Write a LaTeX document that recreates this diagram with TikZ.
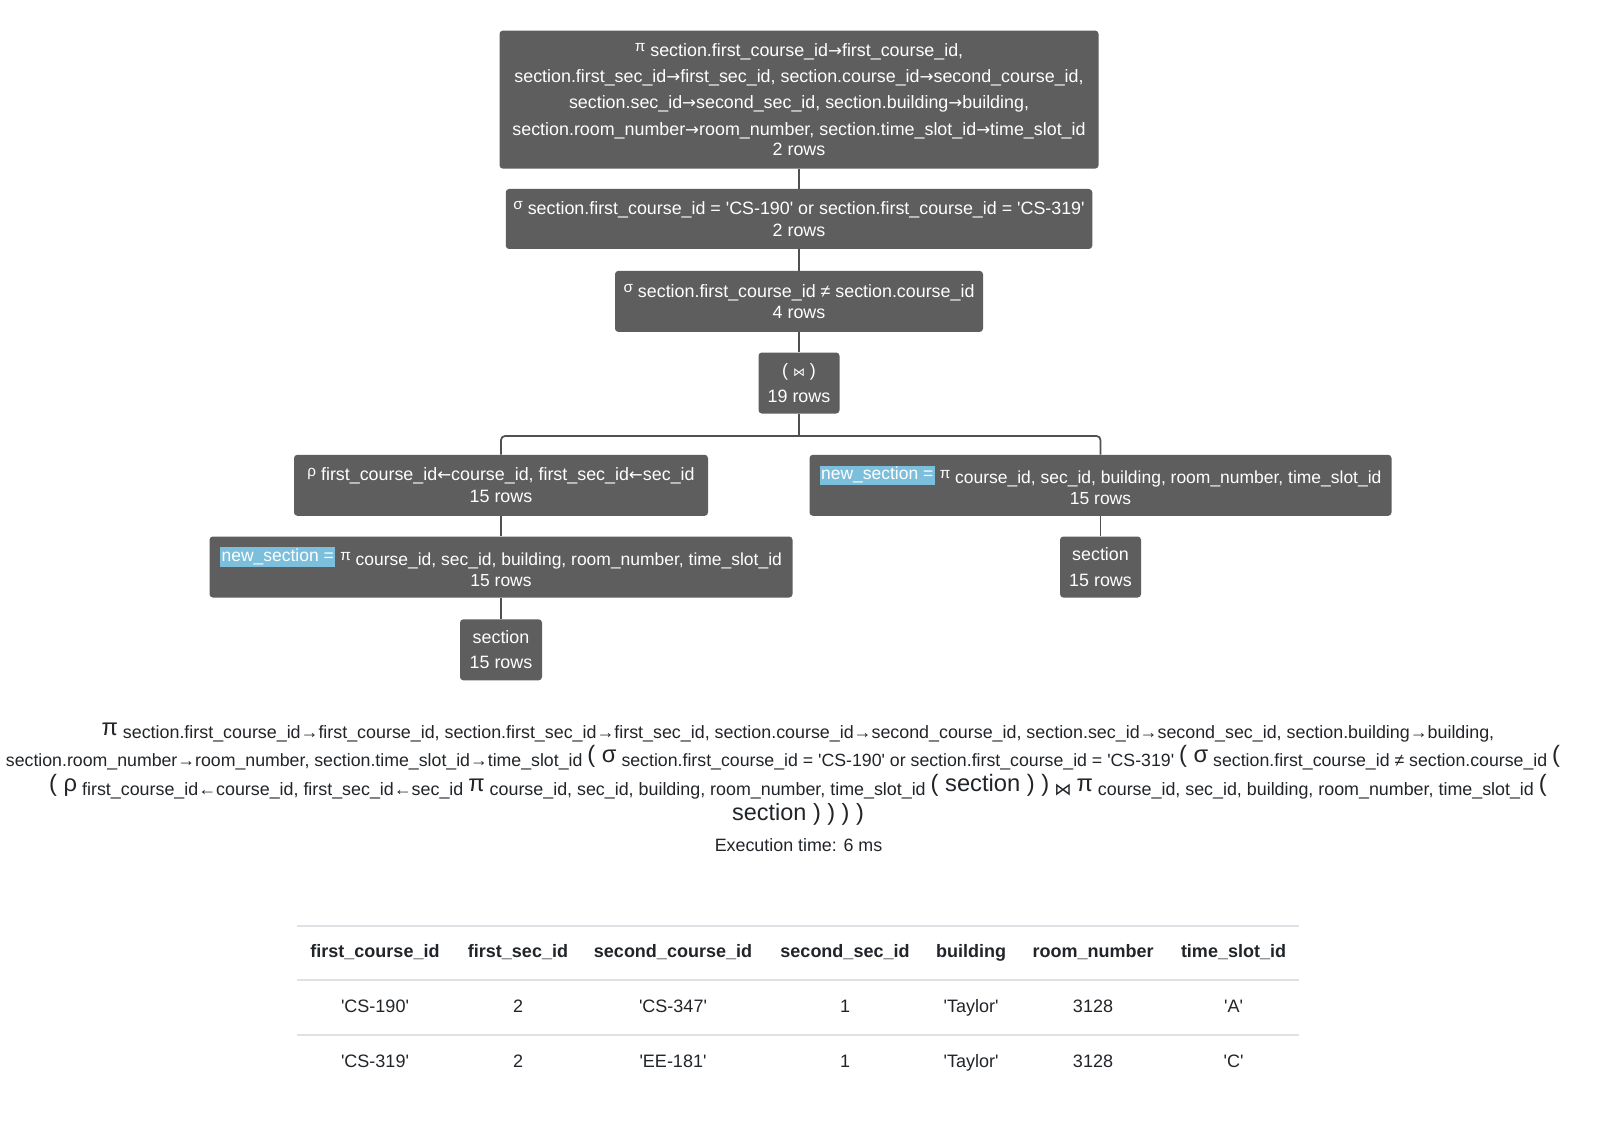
\documentclass[tikz,border=0pt]{standalone}
\usepackage{fontspec}
\setmainfont{Liberation Sans}[Ligatures=TeXOff]
\newfontfamily\symfont{DejaVu Sans}
\definecolor{boxgray}{HTML}{5E5E5E}
\definecolor{hlblue}{HTML}{7CBFDD}
\definecolor{wirecol}{HTML}{505050}
\definecolor{rulecol}{HTML}{DEE2E6}
\definecolor{ink}{HTML}{212529}
% small raised operator letter inside a plan box
\newcommand\opg[1]{\raisebox{3.5pt}{\fontsize{11.5}{11.5}\selectfont #1}}
% thin arrows used inside the plan boxes
\newcommand\ra{{\symfont\fontsize{12.5}{12.5}\selectfont →}}
\newcommand\la{{\symfont\fontsize{12.5}{12.5}\selectfont ←}}
% highlighted alias label
\newcommand\hlalias[1]{\raisebox{2.6pt}{\setlength{\fboxsep}{1.2pt}\colorbox{hlblue}{#1}}}
% large symbol in the algebra expression
\newcommand\bsym[1]{\raisebox{2.5pt}{\fontsize{17.8}{17.8}\selectfont #1}}
\begin{document}
\begin{tikzpicture}[x=0.75pt,y=-0.75pt,
  opbox/.style={fill=boxgray,text=white,rounded corners=2.5pt,inner sep=0pt,align=center,
    font=\fontsize{13.4}{19.8}\selectfont},
  dims/.style 2 args={minimum width=#1*0.75pt,minimum height=#2*0.75pt},
  wire/.style={draw=wirecol,line width=1.3pt},
  expr/.style={inner sep=0pt,text=ink,font=\fontsize{13.4}{15}\selectfont,anchor=base},
  hcell/.style={inner sep=0pt,text=ink,font=\bfseries\fontsize{13.5}{15}\selectfont,anchor=base},
  cell/.style={inner sep=0pt,text=ink,font=\fontsize{13.5}{15}\selectfont,anchor=base},
  hrule/.style={draw=rulecol,line width=1.5pt}]
\useasboundingbox (0,0) rectangle (1602,1134);
\fill[white] (0,0) rectangle (1602,1134);

% ---- query plan tree ----
\node[opbox,dims={599}{138}] (proj) at (799,99.6)
  {\opg{π} section.first\_course\_id\ra first\_course\_id,\\
   section.first\_sec\_id\ra first\_sec\_id, section.course\_id\ra second\_course\_id,\\
   section.sec\_id\ra second\_sec\_id, section.building\ra building,\\
   section.room\_number\ra room\_number, section.time\_slot\_id\ra time\_slot\_id\\[-4.3pt]
   2 rows};
\node[opbox,dims={586.5}{60}] (selA) at (799,219)
  {\opg{σ} section.first\_course\_id = 'CS-190' or section.first\_course\_id = 'CS-319'\\[-2.9pt] 2 rows};
\node[opbox,dims={368}{61}] (selB) at (799,301.4)
  {\opg{σ} section.first\_course\_id ≠ section.course\_id\\[-3.7pt] 4 rows};
\node[opbox,dims={81}{61}] (join) at (799,383)
  {( {\symfont\fontsize{9}{9}\selectfont ⋈} )\\[-0.7pt] 19 rows};
\node[opbox,dims={414}{61}] (ren) at (501,485.3)
  {\opg{ρ} first\_course\_id\la course\_id, first\_sec\_id\la sec\_id\\[-3.7pt] 15 rows};
\node[opbox,dims={582}{61},font=\fontsize{13.1}{19.8}\selectfont] (prR) at (1100.5,485.3)
  {\hlalias{new\_section =} \opg{π} course\_id, sec\_id, building, room\_number, time\_slot\_id\\[-3.7pt] 15 rows};
\node[opbox,dims={583}{61},font=\fontsize{13.1}{19.8}\selectfont] (prL) at (501,567)
  {\hlalias{new\_section =} \opg{π} course\_id, sec\_id, building, room\_number, time\_slot\_id\\[-3.7pt] 15 rows};
\node[opbox,dims={81}{61}] (secR) at (1100.5,567) {section\\[-0.7pt] 15 rows};
\node[opbox,dims={82}{61}] (secL) at (501,649.8) {section\\[-0.7pt] 15 rows};

\coordinate (fork) at (799,436);
\draw[wire] (proj.south) -- (selA.north);
\draw[wire] (selA.south) -- (selB.north);
\draw[wire] (selB.south) -- (join.north);
\draw[wire] (join.south) -- (fork);
\draw[wire,rounded corners=3pt] (ren.north) |- (fork) -| (prR.north);
\draw[wire] (ren.south) -- (prL.north);
\draw[wire] (prL.south) -- (secL.north);
\draw[wire] (prR.south) -- (secR.north);

% ---- relational algebra expression ----
\node[expr] (e1) at (798,738.6)
  {\bsym{π} section.first\_course\_id→first\_course\_id, section.first\_sec\_id→first\_sec\_id, section.course\_id→second\_course\_id, section.sec\_id→second\_sec\_id, section.building→building,};
\node[expr,font=\fontsize{13.3}{15}\selectfont] (e2) at (783,766)
  {section.room\_number→room\_number, section.time\_slot\_id→time\_slot\_id \bsym{( σ} section.first\_course\_id = 'CS-190' or section.first\_course\_id = 'CS-319' \bsym{( σ} section.first\_course\_id ≠ section.course\_id \bsym{(}};
\node[expr] (e3) at (798,795)
  {\bsym{( ρ} first\_course\_id←course\_id, first\_sec\_id←sec\_id \bsym{π} course\_id, sec\_id, building, room\_number, time\_slot\_id \bsym{( section ) )} {\symfont\fontsize{13}{13}\selectfont ⋈} \bsym{π} course\_id, sec\_id, building, room\_number, time\_slot\_id \bsym{(}};
\node[expr,font=\fontsize{17.6}{17.6}\selectfont] (e4) at (798,820) {section ) ) ) )};
\node[expr,font=\fontsize{13.4}{15}\selectfont] (exec) at (798.5,851) {Execution time: 6 ms};

% ---- result table ----
\draw[hrule] (297,925.7) -- (1299,925.7);
\draw[hrule] (297,979.8) -- (1299,979.8);
\draw[hrule] (297,1035) -- (1299,1035);
\foreach \x/\t [count=\i] in {375/first\_course\_id,518/first\_sec\_id,673/second\_course\_id,
    845/second\_sec\_id,971/building,1093/room\_number,1233.5/time\_slot\_id}
  \node[hcell] (h\i) at (\x,957) {\t};
\foreach \x/\t [count=\i] in {375/'CS-190',518/2,673/'CS-347',845/1,971/'Taylor',1093/3128,1233.5/'A'}
  \node[cell] (a\i) at (\x,1012) {\t};
\foreach \x/\t [count=\i] in {375/'CS-319',518/2,673/'EE-181',845/1,971/'Taylor',1093/3128,1233.5/'C'}
  \node[cell] (b\i) at (\x,1067) {\t};
\end{tikzpicture}
\end{document}
